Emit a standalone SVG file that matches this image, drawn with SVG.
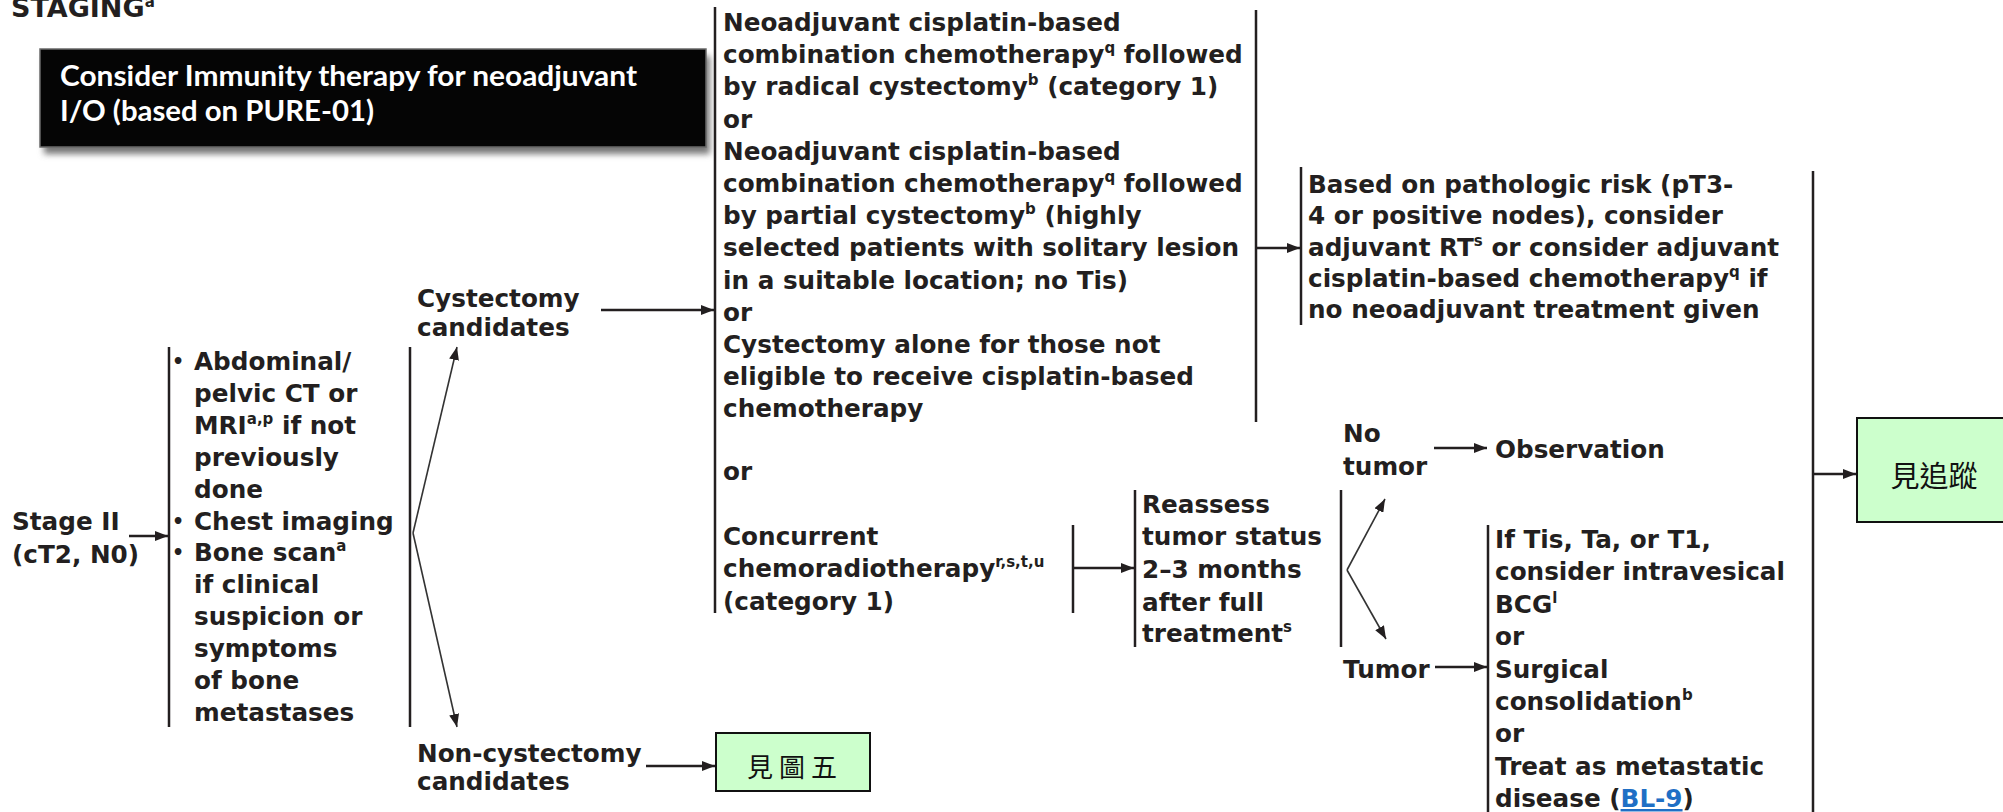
<svg xmlns="http://www.w3.org/2000/svg" width="2003" height="812" viewBox="0 0 2003 812">
<style>
.t{font-family:"DejaVu Sans",Verdana,sans-serif;font-weight:bold;font-size:24.7px;fill:#231f20}
.sup{font-size:15px}
.bul{font-size:19px}
.br{stroke:#231f20;stroke-width:2.5;fill:none}
.cn{stroke:#231f20;stroke-width:2.5;fill:none}
.cv{stroke:#333;stroke-width:1.6;fill:none}
.wt{font-family:Lato,"Open Sans",sans-serif;font-weight:bold;font-size:29px;fill:#fff}
.cjk{font-family:"Noto Sans CJK TC","Noto Sans CJK SC",sans-serif;font-size:29px;fill:#111}
.gb{fill:#ccffcc;stroke:#111;stroke-width:2}
.lnk{fill:#1f6fc5;text-decoration:underline}
</style>
<defs>
<marker id="ah" markerUnits="userSpaceOnUse" markerWidth="13" markerHeight="10" refX="13" refY="5" orient="auto">
<path d="M0,0 L13,5 L0,10 z" fill="#231f20"/>
</marker>
<filter id="sh" x="-5%" y="-20%" width="110%" height="150%">
<feGaussianBlur stdDeviation="3"/>
</filter>
</defs>

<g id="title">
<text class="t" x="11" y="17" style="font-size:27px">STAGING<tspan class="sup" dy="-10">a</tspan></text>
</g>

<g id="io-note">
<rect x="44" y="56" width="666" height="98" fill="#777" filter="url(#sh)"/>
<rect x="40" y="49" width="666" height="98" fill="#050505" stroke="#6a6a6a" stroke-width="1.5"/>
<text class="wt" x="60" y="86" textLength="577" lengthAdjust="spacingAndGlyphs">Consider Immunity therapy for neoadjuvant</text>
<text class="wt" x="60" y="121" textLength="314" lengthAdjust="spacingAndGlyphs">I/O (based on PURE-01)</text>
</g>

<g id="stage">
<text class="t" x="12" y="530">Stage II</text>
<text class="t" x="12" y="563">(cT2, N0)</text>
</g>

<g id="workup">
<line class="br" x1="169" y1="347" x2="169" y2="727"/>
<line class="br" x1="410" y1="347" x2="410" y2="727"/>
<text class="t bul" x="172" y="368">•</text><text class="t" x="194" y="370">Abdominal/</text>
<text class="t" x="194" y="402">pelvic CT or</text>
<text class="t" x="194" y="434">MRI<tspan class="sup" dy="-10">a,p</tspan><tspan dy="10"> if not</tspan></text>
<text class="t" x="194" y="466">previously</text>
<text class="t" x="194" y="498">done</text>
<text class="t bul" x="172" y="528">•</text><text class="t" x="194" y="530">Chest imaging</text>
<text class="t bul" x="172" y="559">•</text><text class="t" x="194" y="561">Bone scan<tspan class="sup" dy="-10">a</tspan></text>
<text class="t" x="194" y="593">if clinical</text>
<text class="t" x="194" y="625">suspicion or</text>
<text class="t" x="194" y="657">symptoms</text>
<text class="t" x="194" y="689">of bone</text>
<text class="t" x="194" y="721">metastases</text>
</g>

<g id="cyst-cand">
<text class="t" x="417" y="307">Cystectomy</text>
<text class="t" x="417" y="336">candidates</text>
</g>

<g id="noncyst-cand">
<text class="t" x="417" y="762">Non-cystectomy</text>
<text class="t" x="417" y="790">candidates</text>
</g>

<g id="fig5">
<rect class="gb" x="716" y="733" width="154" height="58"/>
<text class="cjk" x="795" y="777" text-anchor="middle" letter-spacing="6" style="font-size:26px">見圖五</text>
</g>

<g id="treatment">
<line class="br" x1="715" y1="7" x2="715" y2="613"/>
<line class="br" x1="1256" y1="10" x2="1256" y2="422"/>
<text class="t" x="723" y="31">Neoadjuvant cisplatin-based</text>
<text class="t" x="723" y="63">combination chemotherapy<tspan class="sup" dy="-10">q</tspan><tspan dy="10"> followed</tspan></text>
<text class="t" x="723" y="95">by radical cystectomy<tspan class="sup" dy="-10">b</tspan><tspan dy="10"> (category 1)</tspan></text>
<text class="t" x="723" y="128">or</text>
<text class="t" x="723" y="160">Neoadjuvant cisplatin-based</text>
<text class="t" x="723" y="192">combination chemotherapy<tspan class="sup" dy="-10">q</tspan><tspan dy="10"> followed</tspan></text>
<text class="t" x="723" y="224">by partial cystectomy<tspan class="sup" dy="-10">b</tspan><tspan dy="10"> (highly</tspan></text>
<text class="t" x="723" y="256">selected patients with solitary lesion</text>
<text class="t" x="723" y="289">in a suitable location; no Tis)</text>
<text class="t" x="723" y="321">or</text>
<text class="t" x="723" y="353">Cystectomy alone for those not</text>
<text class="t" x="723" y="385">eligible to receive cisplatin-based</text>
<text class="t" x="723" y="417">chemotherapy</text>
<text class="t" x="723" y="480">or</text>
<text class="t" x="723" y="545">Concurrent</text>
<text class="t" x="723" y="577">chemoradiotherapy<tspan class="sup" dy="-10">r,s,t,u</tspan></text>
<text class="t" x="723" y="610">(category 1)</text>
<line class="br" x1="1073" y1="525" x2="1073" y2="613"/>
</g>

<g id="adjuvant">
<line class="br" x1="1301" y1="167" x2="1301" y2="325"/>
<text class="t" x="1308" y="193">Based on pathologic risk (pT3-</text>
<text class="t" x="1308" y="224">4 or positive nodes), consider</text>
<text class="t" x="1308" y="256">adjuvant RT<tspan class="sup" dy="-10">s</tspan><tspan dy="10"> or consider adjuvant</tspan></text>
<text class="t" x="1308" y="287">cisplatin-based chemotherapy<tspan class="sup" dy="-10">q</tspan><tspan dy="10"> if</tspan></text>
<text class="t" x="1308" y="318">no neoadjuvant treatment given</text>
</g>

<g id="reassess">
<line class="br" x1="1135" y1="490" x2="1135" y2="647"/>
<line class="br" x1="1341" y1="490" x2="1341" y2="647"/>
<text class="t" x="1142" y="513">Reassess</text>
<text class="t" x="1142" y="545">tumor status</text>
<text class="t" x="1142" y="578">2–3 months</text>
<text class="t" x="1142" y="611">after full</text>
<text class="t" x="1142" y="642">treatment<tspan class="sup" dy="-10">s</tspan></text>
</g>

<g id="no-tumor">
<text class="t" x="1343" y="442">No</text>
<text class="t" x="1343" y="475">tumor</text>
</g>

<g id="observation">
<text class="t" x="1495" y="458">Observation</text>
</g>

<g id="tumor">
<text class="t" x="1343" y="678">Tumor</text>
</g>

<g id="tumor-options">
<line class="br" x1="1488" y1="525" x2="1488" y2="812"/>
<text class="t" x="1495" y="548">If Tis, Ta, or T1,</text>
<text class="t" x="1495" y="580">consider intravesical</text>
<text class="t" x="1495" y="613">BCG<tspan class="sup" dy="-10">l</tspan></text>
<text class="t" x="1495" y="645">or</text>
<text class="t" x="1495" y="678">Surgical</text>
<text class="t" x="1495" y="710">consolidation<tspan class="sup" dy="-10">b</tspan></text>
<text class="t" x="1495" y="742">or</text>
<text class="t" x="1495" y="775">Treat as metastatic</text>
<text class="t" x="1495" y="807">disease (<tspan class="lnk">BL-9</tspan>)</text>
</g>

<g id="followup">
<line class="br" x1="1813" y1="171" x2="1813" y2="812"/>
<rect class="gb" x="1857" y="418" width="160" height="104"/>
<text class="cjk" x="1934" y="487" text-anchor="middle">見追蹤</text>
</g>

<g id="connectors">
<path class="cn" d="M129,536 H168" marker-end="url(#ah)"/>
<path class="cv" d="M413,533 L457,347" marker-end="url(#ah)"/>
<path class="cv" d="M413,533 L457,727" marker-end="url(#ah)"/>
<path class="cn" d="M601,310 H714" marker-end="url(#ah)"/>
<path class="cn" d="M646,766 H715" marker-end="url(#ah)"/>
<path class="cn" d="M1256,248 H1300" marker-end="url(#ah)"/>
<path class="cn" d="M1073,568 H1134" marker-end="url(#ah)"/>
<path class="cv" d="M1347,570 L1385,499" marker-end="url(#ah)"/>
<path class="cv" d="M1347,570 L1386,639" marker-end="url(#ah)"/>
<path class="cn" d="M1434,448 H1487" marker-end="url(#ah)"/>
<path class="cn" d="M1435,667 H1487" marker-end="url(#ah)"/>
<path class="cn" d="M1813,474 H1856" marker-end="url(#ah)"/>
</g>
</svg>
